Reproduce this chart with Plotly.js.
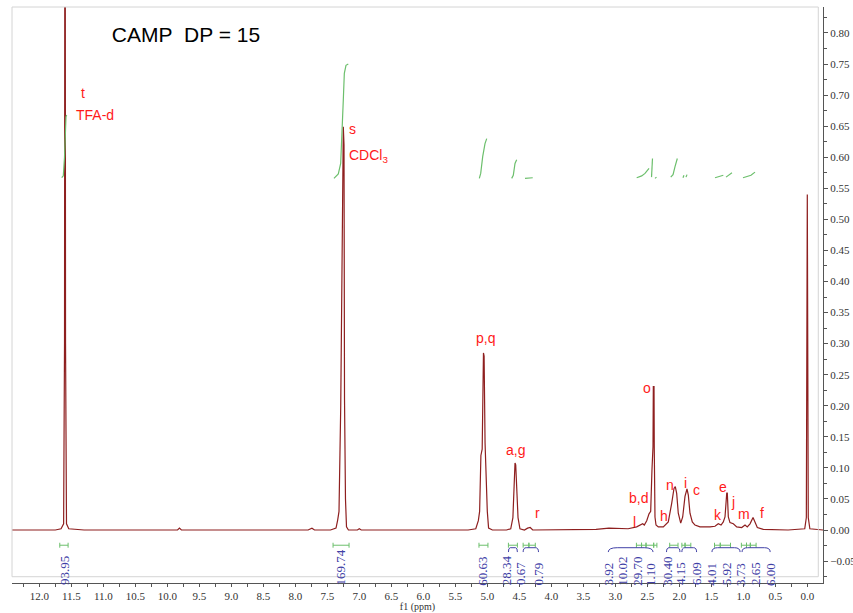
<!DOCTYPE html>
<html><head><meta charset="utf-8">
<script src="https://cdn.plot.ly/plotly-3.0.1.min.js"></script>
<style>html,body{margin:0;padding:0;background:#fff}</style>
</head><body><div id="chart" style="width:853px;height:613px"></div>
<script>
// Spectrum (chemical shift in ppm, intensity)
const shift = [
12.43, 11.75, 11.66, 11.62, 11.606, 11.598, 11.59, 11.575, 11.54, 11.30,
9.84, 9.81, 9.78,
7.80, 7.74, 7.70,
7.45, 7.40, 7.364, 7.338, 7.317, 7.29, 7.263, 7.25, 7.239, 7.231, 7.216, 7.20, 7.17,
7.03, 7.00, 6.97,
5.30, 5.18, 5.14, 5.12, 5.10, 5.08, 5.06, 5.05, 5.035, 5.02, 5.00, 4.98, 4.92,
4.70, 4.634, 4.60, 4.583, 4.567, 4.556, 4.544, 4.52, 4.49, 4.42,
4.37, 4.33, 4.29, 4.20,
3.60, 3.30, 3.10, 2.95, 2.80,
2.666, 2.614, 2.572, 2.547, 2.509, 2.473, 2.447, 2.427, 2.411, 2.406, 2.395, 2.391, 2.380, 2.364, 2.328,
2.25, 2.172, 2.119, 2.083, 2.0625, 2.041, 2.016, 1.978, 1.947, 1.911, 1.880, 1.859, 1.833, 1.797, 1.755,
1.677, 1.52, 1.442, 1.391, 1.348, 1.3125, 1.286, 1.259, 1.25, 1.234, 1.208, 1.156, 1.103, 1.025,
0.973, 0.938, 0.895, 0.848, 0.817, 0.781, 0.688,
0.30, 0.04, 0.015, 0.0, -0.015, -0.04, -0.245];
const intensity = [
0, 0, 0.002, 0.01, 0.3, 1.5, 0.3, 0.01, 0.002, 0,
0, 0.003, 0,
0, 0.003, 0,
0, 0.002, 0.003, 0.016, 0.03, 0.2, 0.6, 0.649, 0.62, 0.21, 0.05, 0.005, 0,
0, 0.002, 0,
0, 0.002, 0.015, 0.03, 0.12, 0.13, 0.285, 0.28, 0.14, 0.086, 0.03, 0.003, 0,
0, 0.002, 0.02, 0.078, 0.108, 0.105, 0.075, 0.02, 0.002, 0,
0.003, 0.004, 0, 0,
0, 0.001, 0.003, 0.003, 0.002,
0.005, 0.008, 0.010, 0.008, 0.015, 0.026, 0.030, 0.097, 0.134, 0.231, 0.231, 0.129, 0.021, 0.008, 0.005,
0.005, 0.013, 0.043, 0.067, 0.070, 0.059, 0.027, 0.011, 0.021, 0.054, 0.066, 0.056, 0.027, 0.013, 0.008,
0.005, 0.005, 0.006, 0.010, 0.008, 0.013, 0.021, 0.059, 0.060, 0.021, 0.012, 0.010, 0.005, 0.004,
0.008, 0.005, 0.010, 0.020, 0.013, 0.004, 0.001,
0, 0.002, 0.02, 0.54, 0.02, 0.002, 0];

// Integral curves (null separates the pieces)
const intShift = [11.65, 11.625, 11.606, 11.598, 11.583, 11.572, null,
 7.396, 7.328, 7.291, 7.266, 7.25, 7.234, 7.208, 7.172, null,
 5.125, 5.103, 5.072, 5.036, 5.009, null,
 4.619, 4.594, 4.567, 4.541, null,
 4.411, 4.29, null,
 2.666, 2.5875, 2.536, 2.505, 2.473, null,
 2.434, 2.419, null,
 2.380, 2.356, null,
 2.134, 2.098, 2.067, 2.031, null,
 1.942, 1.927, null,
 1.895, 1.880, null,
 1.442, 1.364, 1.3125, null,
 1.270, 1.223, 1.177, null,
 1.005, 0.927, 0.880, 0.817];
const intCurve = [0.567, 0.570, 0.60, 0.64, 0.665, 0.668, null,
 0.566, 0.573, 0.590, 0.639, 0.692, 0.735, 0.748, 0.750, null,
 0.566, 0.574, 0.601, 0.622, 0.630, null,
 0.566, 0.571, 0.590, 0.596, null,
 0.566, 0.567, null,
 0.567, 0.570, 0.574, 0.578, 0.582, null,
 0.568, 0.598, null,
 0.566, 0.568, null,
 0.568, 0.572, 0.585, 0.598, null,
 0.567, 0.571, null,
 0.568, 0.572, null,
 0.567, 0.569, 0.571, null,
 0.568, 0.571, 0.575, null,
 0.567, 0.569, 0.571, 0.576];

// Integration ranges and values
const rangeFrom = [11.68, 7.41, 5.13, 4.67, 4.44, 4.35, 2.67, 2.59, 2.52, 2.40, 2.15, 1.96, 1.91, 1.45, 1.36, 1.03, 0.95, 0.89];
const rangeTo   = [11.55, 7.16, 4.99, 4.53, 4.35, 4.25, 2.59, 2.52, 2.40, 2.35, 2.02, 1.91, 1.82, 1.36, 1.20, 0.95, 0.89, 0.80];
const intLabels = ['93.95','169.74','60.63','28.34','0.67','0.79','3.92','10.02','29.70','1.10','30.40','4.15','6.09','4.01','5.92','3.73','2.65','6.00'];
const intLabelPos = [11.614, 7.286, 5.087, 4.697, 4.489, 4.203, 3.109, 2.900, 2.666, 2.458, 2.197, 1.989, 1.739, 1.509, 1.270, 1.052, 0.817, 0.583];
const braceFrom = [4.67, 4.44, 3.11, 2.20, 1.96, 1.49, 1.02];
const braceTo   = [4.53, 4.20, 2.41, 1.99, 1.73, 1.05, 0.58];

// Peak assignment labels
const peakNames = ['t','TFA-d','s','CDCl<sub>3</sub>','p,q','a,g','r','o','n','i','c','b,d','l','h','k','e','j','m','f'];
const peakX = [11.322, 11.1375, 7.109, 6.85, 5.036, 4.559, 4.208, 2.509, 2.145, 1.90, 1.728, 2.641, 2.703, 2.239, 1.40, 1.3125, 1.156, 0.984, 0.713];
const peakY = [0.704, 0.668, 0.645, 0.602, 0.3086, 0.129, 0.027, 0.228, 0.072, 0.076, 0.064, 0.051, 0.0134, 0.0225, 0.024, 0.0687, 0.0456, 0.0258, 0.0278];

const red = '#ff1a1a', blue = '#4040a6', green = '#6cbf6c';

// bracket trace built from ranges
const bx = [], by = [];
const yb = -0.0245, cap = 0.004;
for (let i = 0; i < rangeFrom.length; i++) {
  bx.push(rangeFrom[i], rangeFrom[i], null, rangeFrom[i], rangeTo[i], null, rangeTo[i], rangeTo[i], null);
  by.push(yb + cap, yb - cap, null, yb, yb, null, yb + cap, yb - cap, null);
}

const traces = [
  {x: shift, y: intensity, type: 'scatter', mode: 'lines', line: {color: '#8e1f1f', width: 1.2}, hoverinfo: 'skip'},
  {x: intShift, y: intCurve, type: 'scatter', mode: 'lines', connectgaps: false, line: {color: green, width: 1.2}, hoverinfo: 'skip'},
  {x: bx, y: by, type: 'scatter', mode: 'lines', connectgaps: false, line: {color: green, width: 1}, hoverinfo: 'skip'}
];

const shapes = [{type: 'rect', xref: 'paper', yref: 'paper', x0: 0, x1: 0.9942, y0: 0.0109, y1: 1, line: {color: '#d4d4d4', width: 1}}];
const yTop = -0.0285, yEnd = -0.0355;
for (let i = 0; i < braceFrom.length; i++) {
  const lo = braceFrom[i], hi = braceTo[i], w = lo - hi;
  shapes.push({type: 'path', xref: 'x', yref: 'y', line: {color: blue, width: 1},
    path: `M ${lo},${yEnd} Q ${lo},${yTop} ${lo - 0.2 * w},${yTop} L ${hi + 0.2 * w},${yTop} Q ${hi},${yTop} ${hi},${yEnd}`});
}

const annotations = [];
for (let i = 0; i < intLabels.length; i++) {
  annotations.push({x: intLabelPos[i], y: -0.008, xref: 'x', yref: 'paper', text: intLabels[i], showarrow: false,
    textangle: -90, xanchor: 'center', yanchor: 'bottom', font: {family: 'Liberation Serif', size: 13, color: blue}});
}
for (let i = 0; i < peakNames.length; i++) {
  annotations.push({x: peakX[i], y: peakY[i], xref: 'x', yref: 'y', text: peakNames[i], showarrow: false,
    xanchor: 'center', yanchor: 'middle', font: {family: 'Liberation Sans, Arial', size: 14, color: red}});
}

const layout = {
  width: 853, height: 613,
  margin: {l: 12, r: 30, t: 7, b: 30},
  paper_bgcolor: '#fff', plot_bgcolor: '#fff',
  showlegend: false,
  title: {text: 'CAMP\u00a0 DP = 15', x: 0.2145, xanchor: 'center', xref: 'paper', y: 0.943, yanchor: 'middle',
    font: {family: 'Liberation Sans, Arial', size: 21, color: '#000'}},
  xaxis: {range: [12.4266, -0.2453], showgrid: false, zeroline: false, showline: true, linecolor: '#555', linewidth: 1,
    ticks: 'outside', ticklen: 3, tickcolor: '#555', tick0: 0, dtick: 0.5, tickformat: '.1f',
    minor: {dtick: 0.25, ticks: 'outside', ticklen: 3, tickcolor: '#555'},
    tickfont: {family: 'Liberation Serif', size: 11, color: '#333'},
    title: {text: 'f1 (ppm)', standoff: 4, font: {family: 'Liberation Serif', size: 10, color: '#333'}}},
  yaxis: {range: [-0.0853, 0.8418], side: 'right', showgrid: false, zeroline: false, showline: true, linecolor: '#555', linewidth: 1,
    ticks: 'outside', ticklen: 4, tickcolor: '#555', tick0: 0, dtick: 0.05, tickformat: '.2f',
    minor: {dtick: 0.025, ticks: 'outside', ticklen: 3, tickcolor: '#555'},
    tickfont: {family: 'Liberation Serif', size: 11, color: '#333'}},
  shapes: shapes,
  annotations: annotations
};
Plotly.newPlot('chart', traces, layout, {displayModeBar: false, staticPlot: true});
</script>
</body></html>
